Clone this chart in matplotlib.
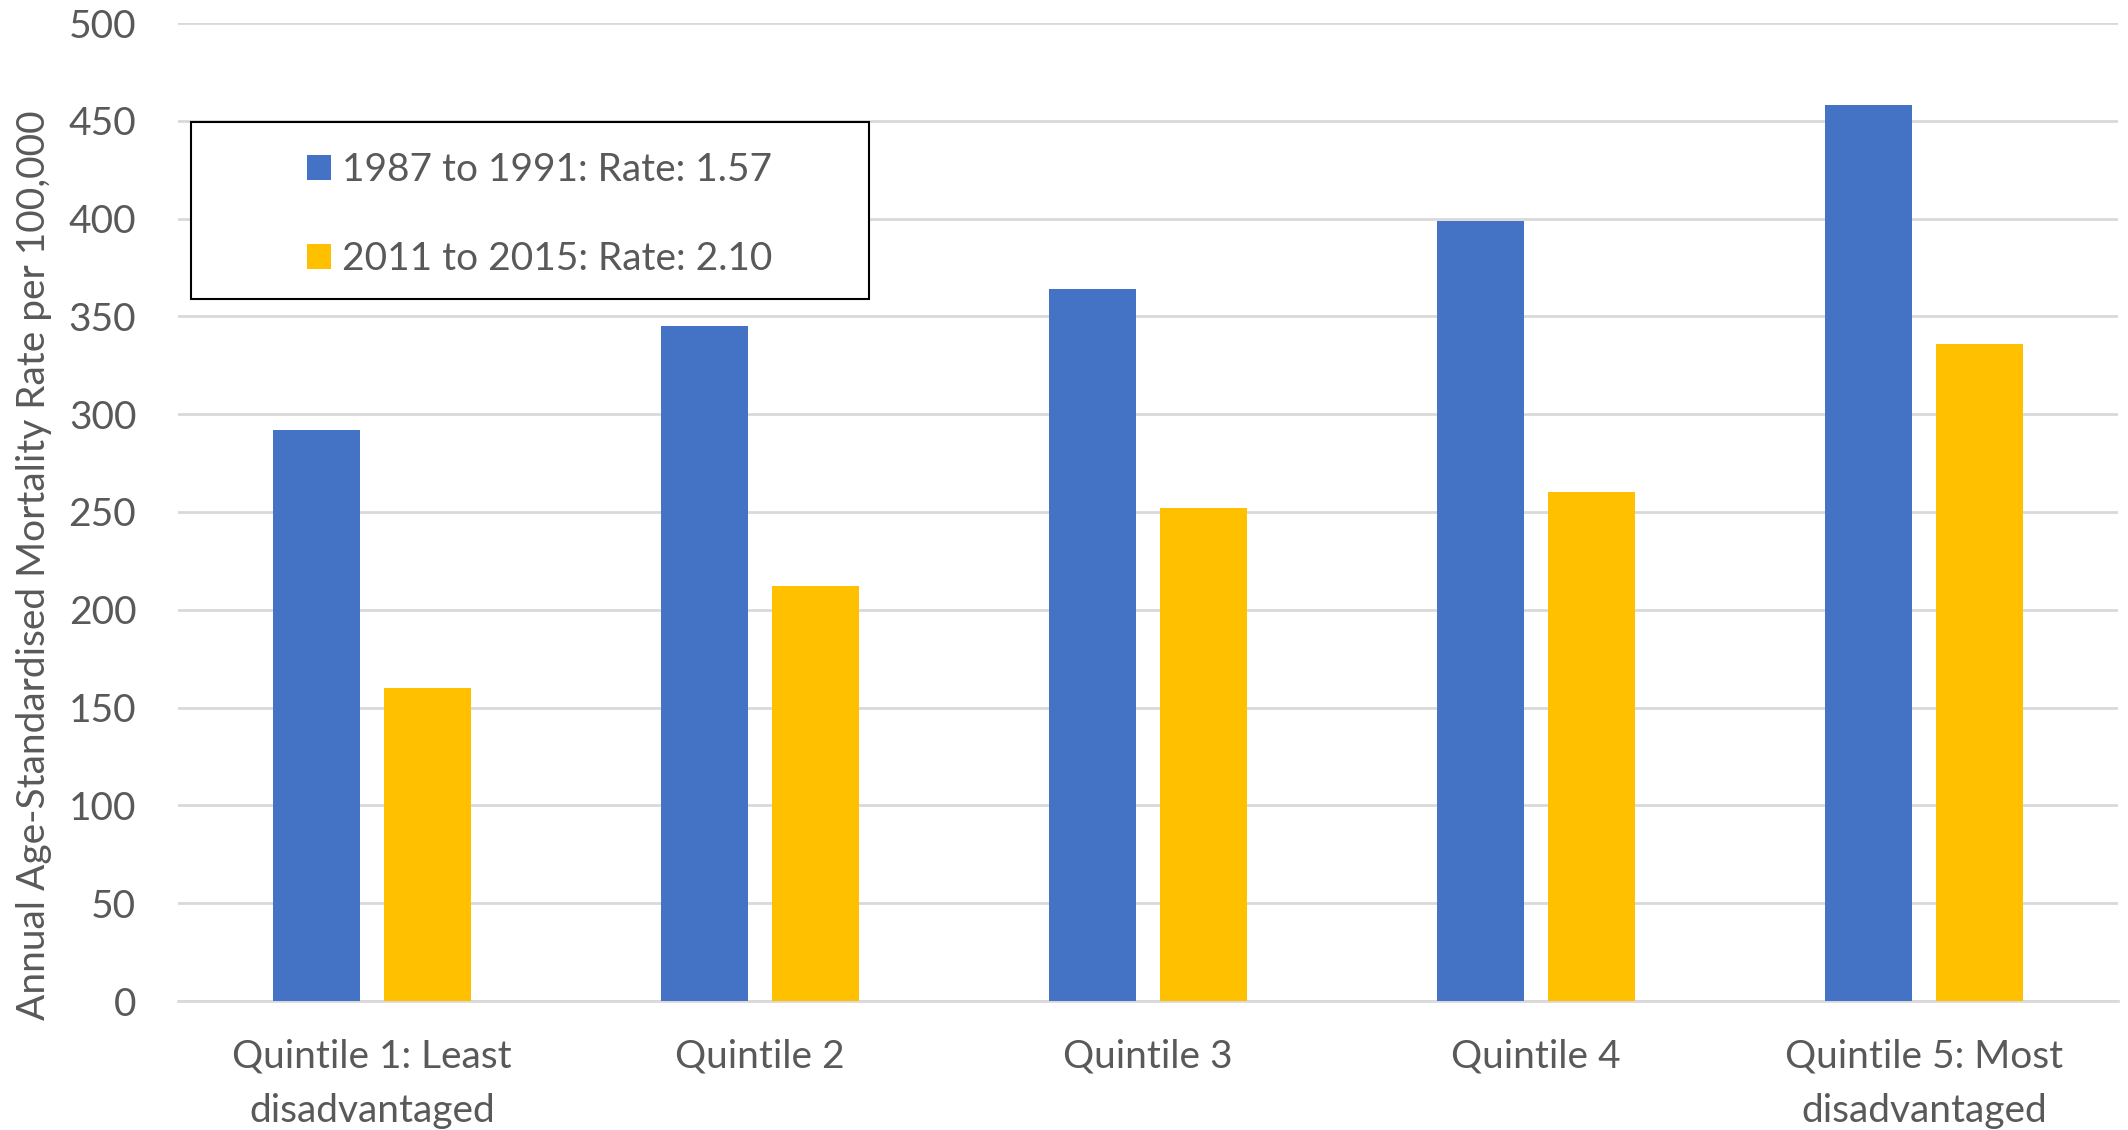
import matplotlib.pyplot as plt
import numpy as np
from matplotlib.patches import Rectangle

# Mortality rate by area disadvantage quintile, two periods
quintiles = ["Quintile 1: Least\ndisadvantaged", "Quintile 2", "Quintile 3",
             "Quintile 4", "Quintile 5: Most\ndisadvantaged"]
rates_1987_1991 = [292, 345, 364, 399, 458]
rates_2011_2015 = [160, 212, 252, 260, 336]
series_labels = ["1987 to 1991: Rate: 1.57", "2011 to 2015: Rate: 2.10"]
y_ticks = [0, 50, 100, 150, 200, 250, 300, 350, 400, 450, 500]

BLUE = "#4472C4"
GOLD = "#FFC000"
TEXT = "#595959"
GRID = "#D9D9D9"

plt.rcParams['font.family'] = ['Lato', 'DejaVu Sans']

W, H = 2128, 1130
fig = plt.figure(figsize=(W / 100, H / 100), dpi=100)
ax = fig.add_axes([178 / W, 1 - 1001 / H, 1940 / W, 978 / H])

x = np.arange(len(quintiles))
bar_w = 0.224
off = 0.142
ax.bar(x - off, rates_1987_1991, bar_w, color=BLUE, label=series_labels[0], zorder=3)
ax.bar(x + off, rates_2011_2015, bar_w, color=GOLD, label=series_labels[1], zorder=3)

ax.set_xlim(-0.5, len(quintiles) - 0.5)
ax.set_ylim(0, 500)
ax.set_yticks(y_ticks)
ax.set_xticks(x)
ax.set_xticklabels(quintiles, linespacing=1.63)
ax.yaxis.grid(True, color=GRID, linewidth=2, zorder=0)
ax.set_axisbelow(True)
for side in ["top", "right", "left"]:
    ax.spines[side].set_visible(False)
ax.spines["bottom"].set_color(GRID)
ax.spines["bottom"].set_linewidth(2)
ax.tick_params(axis="both", length=0, labelsize=28, labelcolor=TEXT)
ax.tick_params(axis="y", pad=30)
ax.tick_params(axis="x", pad=27)

fig.text(34 / W, 1 - 565 / H, "Annual Age-Standardised Mortality Rate per 100,000",
         rotation=90, ha="center", va="center", fontsize=28, color=TEXT)

# legend box with black outline
ax.add_patch(Rectangle((191 / W, 1 - 299 / H), 678 / W, 177 / H,
                       transform=fig.transFigure, facecolor="white",
                       edgecolor="black", linewidth=1.5, zorder=5, clip_on=False))
leg = ax.legend(loc="upper left", bbox_to_anchor=(288 / W, 1 - 133 / H),
                bbox_transform=fig.transFigure, frameon=False, fontsize=28,
                handlelength=0.6, handleheight=0.6, handletextpad=0.3,
                labelspacing=1.35, borderpad=0)
for t in leg.get_texts():
    t.set_color(TEXT)
leg.set_zorder(6)

fig.savefig("out.png", dpi=100)
